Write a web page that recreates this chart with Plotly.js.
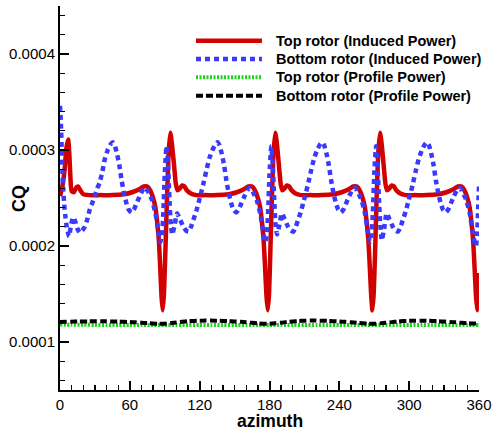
<!DOCTYPE html>
<html>
<head>
<meta charset="utf-8">
<script src="https://cdn.plot.ly/plotly-3.0.1.min.js"></script>
<style>html,body{margin:0;padding:0;background:#fff;}#chart{width:492px;height:432px;}</style>
</head>
<body>
<div id="chart"></div>
<script>
// ---- data ----
const seriesNames = ["Top rotor (Induced Power)", "Bottom rotor (Induced Power)", "Top rotor (Profile Power)", "Bottom rotor (Profile Power)"];
const xTitle = "azimuth";
const yTitle = "CQ";

const azRed = [0,2,4,5.5,7,8,9,10,12,14,15.5,17.5,20,25,35,45,55,62,68,72,75,77.5,80,82,83.5,85,86.2,87.2,88.2,89.3,90.5,92,93.4,94.8,96,97.7,99.5,101,103,105,107,109,112,117,
125,135,145,152,158,162,165,167.5,170,172,173.5,175,176.3,177.4,178.5,179.6,180.7,182.1,183.5,185,186.2,187.8,189.6,191,193,195,197,199,202,207,
215,225,235,242,248,252,255,257.5,260,262,263.5,265,266.3,267.4,268.4,269.5,270.7,272.1,273.5,275,276.2,277.8,279.6,281,283,285,287,289,292,297,
305,315,325,332,338,342,345,347.5,350,352,353.5,355,356.3,357.4,358.5,359.3,360];
const cqRed = [0.000252,0.000262,0.00028,0.000302,0.000311,0.000296,0.00027,0.000257,0.000256,0.000261,0.000262,0.000258,0.000254,0.000253,0.000253,0.000253,0.000254,0.000256,0.000259,0.000262,0.000262,0.000258,0.00025,0.00024,0.000225,0.000205,0.000175,0.000148,0.000133,0.00015,0.000193,0.000252,0.000298,0.000318,0.000308,0.000288,0.000265,0.000258,0.00026,0.000263,0.000262,0.000258,0.000255,0.000253,
0.000253,0.000253,0.000254,0.000256,0.000259,0.000262,0.000262,0.000258,0.00025,0.00024,0.000225,0.000205,0.000175,0.000148,0.000133,0.00015,0.000193,0.000252,0.000298,0.000318,0.000308,0.000288,0.000265,0.000258,0.00026,0.000263,0.000262,0.000258,0.000255,0.000253,
0.000253,0.000253,0.000254,0.000256,0.000259,0.000262,0.000262,0.000258,0.00025,0.00024,0.000225,0.000205,0.000175,0.000148,0.000133,0.00015,0.000193,0.000252,0.000298,0.000318,0.000308,0.000288,0.000265,0.000258,0.00026,0.000263,0.000262,0.000258,0.000255,0.000253,
0.000253,0.000253,0.000254,0.000256,0.000259,0.000262,0.000262,0.000258,0.00025,0.00024,0.000225,0.000205,0.000175,0.000148,0.000133,0.000145,0.000172];

const azBlue = [0,0.7,1.5,2.5,3.5,4.5,5.8,7.8,9.5,11.3,13,15,17,19,21.3,23.5,25.6,27.8,29.9,32,34.1,36.5,38.4,41,43.5,45.3,47,49,51,53,55,57,59,61.4,63.5,66,68.5,71,73.4,75.5,77.5,79,82,84.3,86.2,87.5,88.8,90,91.5,92.8,94,95.2,96.5,98.5,100.6,103,106,108.3,110.5,112.6,114.8,117,119,121.2,123.4,126,128.5,131,133.5,135.3,
137,139,141,143,145,147,149,151.4,153.5,156,158.5,161,163.4,165.5,167.5,169,172,174.3,176.2,177.5,178.8,180,181.5,182.8,184,185.2,186.5,188.5,190.6,193,196,198.3,200.5,202.6,204.8,207,209,211.2,213.4,216,218.5,221,223.5,225.3,
227,229,231,233,235,237,239,241.4,243.5,246,248.5,251,253.4,255.5,257.5,259,262,264.3,266.2,267.5,268.8,270,271.5,272.8,274,275.2,276.5,278.5,280.6,283,286,288.3,290.5,292.6,294.8,297,299,301.2,303.4,306,308.5,311,313.5,315.3,
317,319,321,323,325,327,329,331.4,333.5,336,338.5,341,343.4,345.5,347.5,349,352,354.3,356.2,357.4,358.5,359.3,360];
const cqBlue = [0.000346,0.00033,0.0003,0.000265,0.000245,0.000232,0.00022,0.00021,0.000222,0.00023,0.000226,0.000218,0.000214,0.000216,0.00022,0.000228,0.000238,0.000245,0.000252,0.00026,0.000266,0.000278,0.00029,0.0003,0.000306,0.000308,0.000305,0.000296,0.000284,0.000268,0.000255,0.000245,0.000238,0.000235,0.000238,0.000245,0.000252,0.000258,0.000261,0.000257,0.000252,0.000248,0.000234,0.000217,0.000204,0.00021,0.000235,0.000275,0.000304,0.000285,0.00025,0.000222,0.000212,0.000222,0.000234,0.000228,0.00022,0.000216,0.000215,0.00022,0.000228,0.000236,0.000245,0.000255,0.000266,0.00028,0.000292,0.0003,0.000306,0.000308,
0.000305,0.000296,0.000284,0.000268,0.000255,0.000245,0.000238,0.000235,0.000238,0.000245,0.000252,0.000258,0.000261,0.000257,0.000252,0.000248,0.000234,0.000217,0.000204,0.00021,0.000235,0.000275,0.000304,0.000285,0.00025,0.000222,0.000212,0.000222,0.000234,0.000228,0.00022,0.000216,0.000215,0.00022,0.000228,0.000236,0.000245,0.000255,0.000266,0.00028,0.000292,0.0003,0.000306,0.000308,
0.000305,0.000296,0.000284,0.000268,0.000255,0.000245,0.000238,0.000235,0.000238,0.000245,0.000252,0.000258,0.000261,0.000257,0.000252,0.000248,0.000234,0.000217,0.000204,0.00021,0.000235,0.000275,0.000304,0.000285,0.00025,0.000222,0.000206,0.000218,0.000234,0.000228,0.00022,0.000216,0.000215,0.00022,0.000228,0.000236,0.000245,0.000255,0.000266,0.00028,0.000292,0.0003,0.000306,0.000308,
0.000305,0.000296,0.000284,0.000268,0.000255,0.000245,0.000238,0.000235,0.000238,0.000245,0.000252,0.000258,0.000261,0.000257,0.000252,0.000248,0.000234,0.000217,0.000204,0.0002,0.000215,0.00024,0.000262];

const azGreen = [0,10,20,30,40,50,60,70,80,90,100,110,120,130,140,150,160,170,180,190,200,210,220,230,240,250,260,270,280,290,300,310,320,330,340,350,360];
const cqGreen = [0.0001182,0.000118,0.0001179,0.0001178,0.0001178,0.0001177,0.0001177,0.0001176,0.0001176,0.0001177,0.0001177,0.0001178,0.0001178,0.0001178,0.0001177,0.0001177,0.0001176,0.0001176,0.0001176,0.0001177,0.0001178,0.0001178,0.0001178,0.0001178,0.0001177,0.0001177,0.0001176,0.0001176,0.0001177,0.0001178,0.0001178,0.0001178,0.0001178,0.0001177,0.0001177,0.0001176,0.0001176];

const azBlack = [0,5,10,15,20,25,30,35,40,45,50,55,60,65,70,75,80,85,90,95,100,105,110,115,120,125,130,135,140,145,150,155,160,165,170,175,180,185,190,195,200,205,210,215,220,225,230,235,240,245,250,255,260,265,270,275,280,285,290,295,300,305,310,315,320,325,330,335,340,345,350,355,360];
const cqBlack = [0.0001208,0.000121,0.0001212,0.0001213,0.0001214,0.0001215,0.0001216,0.0001216,0.0001215,0.0001214,0.0001213,0.0001211,0.0001208,0.0001205,0.0001201,0.0001197,0.0001193,0.000119,0.0001191,0.0001196,0.0001203,0.000121,0.0001216,0.000122,0.0001222,0.0001223,0.0001223,0.0001222,0.000122,0.0001217,0.0001214,0.000121,0.0001205,0.00012,0.0001195,0.0001191,0.0001191,0.0001195,0.0001201,0.0001208,0.0001214,0.0001219,0.0001222,0.0001223,0.0001223,0.0001222,0.000122,0.0001217,0.0001214,0.000121,0.0001205,0.00012,0.0001195,0.0001191,0.000119,0.0001194,0.00012,0.0001207,0.0001213,0.0001218,0.0001221,0.0001222,0.0001222,0.0001221,0.0001219,0.0001216,0.0001213,0.0001209,0.0001205,0.00012,0.0001196,0.0001193,0.0001194];

const xTickVals = [0,60,120,180,240,300,360];
const yTickVals = [0.0001,0.0002,0.0003,0.0004];

// ---- styles ----
const styles = [
  {color:"#d20000", width:4.5, dash:"solid"},
  {color:"#3a3aff", width:4.5, dash:"5px,4px"},
  {color:"#19d419", width:4, dash:"2px,1.5px"},
  {color:"#000000", width:4, dash:"7px,3px"}
];
const xs = [azRed, azBlue, azGreen, azBlack];
const ys = [cqRed, cqBlue, cqGreen, cqBlack];

const traces = xs.map((x,i)=>({
  x:x, y:ys[i], type:"scatter", mode:"lines", name:seriesNames[i],
  line:{color:styles[i].color, width:styles[i].width, dash:styles[i].dash, shape:"spline", smoothing:0.5},
  showlegend:false, hoverinfo:"skip"
}));

const FONT = "Liberation Sans, Arial, Helvetica, sans-serif";
// custom legend (shapes + annotations in paper coordinates)
const legY = [0.9096, 0.8620, 0.8143, 0.7664];
const shapes = legY.map((y,i)=>({
  type:"line", xref:"paper", yref:"paper", x0:0.3246, x1:0.482, y0:y, y1:y,
  line:{color:styles[i].color, width:styles[i].width, dash:styles[i].dash}
}));
const annotations = legY.map((y,i)=>({
  xref:"paper", yref:"paper", x:0.5131, y:y, xanchor:"left", yanchor:"middle",
  text:"<b>"+seriesNames[i]+"</b>", showarrow:false, borderpad:0,
  font:{family:FONT, size:14.5, color:"#000"}
}));
// axis titles placed as annotations for exact position
annotations.push({
  xref:"paper", yref:"paper", x:0.5, y:-0.081, xanchor:"center", yanchor:"middle",
  text:"<b>"+xTitle+"</b>", showarrow:false, borderpad:0,
  font:{family:FONT, size:17.5, color:"#000"}
});
annotations.push({
  xref:"paper", yref:"paper", x:-0.0979, y:0.5, xanchor:"center", yanchor:"middle",
  text:"<b>"+yTitle+"</b>", showarrow:false, borderpad:0, textangle:-90,
  font:{family:FONT, size:18, color:"#000"}
});

const layout = {
  width:492, height:432,
  margin:{l:60, r:13, t:6, b:42},
  paper_bgcolor:"#fff", plot_bgcolor:"#fff",
  showlegend:false,
  font:{family:FONT, color:"#000"},
  xaxis:{
    range:[0,360], tickvals:xTickVals, ticktext:xTickVals.map(String),
    showgrid:false, zeroline:false, showline:true, linecolor:"#000", linewidth:2,
    ticks:"inside", ticklen:9, tickwidth:2, tickcolor:"#000",
    minor:{dtick:10, tick0:0, ticks:"inside", ticklen:5, tickwidth:1.3, tickcolor:"#000", showgrid:false},
    tickfont:{family:FONT, size:15, color:"#000"},
    mirror:false, fixedrange:true
  },
  yaxis:{
    range:[0.00005,0.00045], tickvals:yTickVals, ticktext:yTickVals.map(v=>v.toFixed(4)),
    showgrid:false, zeroline:false, showline:true, linecolor:"#000", linewidth:2,
    ticks:"inside", ticklen:9, tickwidth:2, tickcolor:"#000",
    minor:{dtick:0.00002, tick0:0, ticks:"inside", ticklen:5, tickwidth:1.3, tickcolor:"#000", showgrid:false},
    tickfont:{family:FONT, size:15, color:"#000"},
    mirror:false, fixedrange:true
  },
  shapes:shapes,
  annotations:annotations
};

Plotly.newPlot("chart", traces, layout, {staticPlot:true, displayModeBar:false});
</script>
</body>
</html>
